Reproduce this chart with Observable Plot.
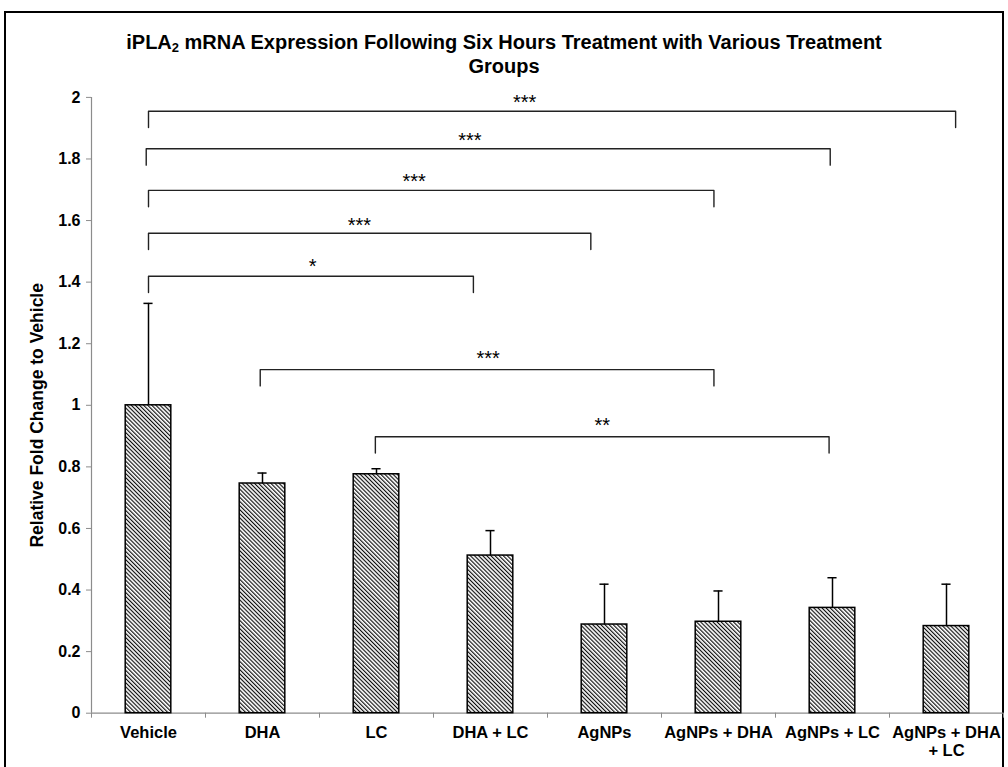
<!DOCTYPE html>
<html>
<head>
<meta charset="utf-8">
<script src="https://cdn.jsdelivr.net/npm/d3@7"></script>
<script src="https://cdn.jsdelivr.net/npm/@observablehq/plot@0.6"></script>
<style>
  html, body { margin: 0; padding: 0; background: #fff; overflow: hidden; }
  body { width: 1008px; height: 767px; position: relative; font-family: "Liberation Sans", Arial, Helvetica, sans-serif; }
  #frame { position: absolute; left: 4px; top: 11px; width: 1000px; height: 800px; border: 2px solid #000; border-bottom: none; box-sizing: border-box; }
  #title { position: absolute; left: 0; top: 30px; width: 1008px; text-align: center; font-weight: bold; font-size: 20px; line-height: 24px; color: #000; }
  #title sub { font-size: 13px; vertical-align: -3px; line-height: 0; }
  #chart { position: absolute; left: 0; top: 0; }
</style>
</head>
<body>
<div id="frame"></div>
<div id="chart"></div>
<div id="title">iPLA<sub>2</sub> mRNA Expression Following Six Hours Treatment with Various Treatment<br>Groups</div>
<script>
// Treatment groups and their relative fold change (mean and top of error bar)
const groups = ["Vehicle", "DHA", "LC", "DHA + LC", "AgNPs", "AgNPs + DHA", "AgNPs + LC", "AgNPs + DHA\n+ LC"];
const means  = [1.000, 0.746, 0.776, 0.512, 0.288, 0.297, 0.342, 0.283];
const upper  = [1.331, 0.780, 0.794, 0.593, 0.419, 0.397, 0.440, 0.419];
const yTicks = [0, 0.2, 0.4, 0.6, 0.8, 1, 1.2, 1.4, 1.6, 1.8, 2];

// Significance brackets: group positions spanned, bracket height, star label and its placement
const bracketFrom  = [0.00, -0.02, 0.00, 0.00, 0.00, 0.98, 1.99];
const bracketTo    = [7.08, 5.98, 4.96, 3.88, 2.85, 4.96, 5.97];
const bracketY     = [1.955, 1.833, 1.698, 1.559, 1.419, 1.116, 0.898];
const bracketStars = ["***", "***", "***", "***", "*", "***", "**"];
const starX        = [3.30, 2.82, 2.33, 1.85, 1.44, 2.98, 3.98];
const starY        = [1.996, 1.873, 1.741, 1.597, 1.464, 1.164, 0.947];

const bars = groups.map((g, i) => ({i, group: g, mean: means[i], upper: upper[i]}));
const drop = 0.053; // length of the bracket legs
const bracketPath = bracketY.flatMap((y, k) => [
  {k, x: bracketFrom[k], y: y - drop},
  {k, x: bracketFrom[k], y},
  {k, x: bracketTo[k], y},
  {k, x: bracketTo[k], y: y - drop}
]);
const stars = bracketStars.map((s, k) => ({s, x: starX[k], y: starY[k]}));
const bounds = d3.range(groups.length + 1).map(i => i - 0.5);
const halfBar = 0.2, halfCap = 0.04;

// Diagonal hatch fill for the bars
const hatch = () => {
  const defs = d3.create("svg:defs");
  const p = defs.append("pattern")
    .attr("id", "hatch")
    .attr("patternUnits", "userSpaceOnUse")
    .attr("width", 2.9).attr("height", 8)
    .attr("patternTransform", "rotate(-45)");
  p.append("rect").attr("width", 2.9).attr("height", 8).attr("fill", "#fff");
  p.append("line").attr("x1", 0.6).attr("y1", 0).attr("x2", 0.6).attr("y2", 8)
    .attr("stroke", "#000").attr("stroke-width", 1.1);
  return defs.node();
};

const chart = Plot.plot({
  width: 1008,
  height: 767,
  marginLeft: 91,
  marginRight: 5,
  marginTop: 96.9,
  marginBottom: 54.3,
  style: {fontFamily: "'Liberation Sans', Arial, Helvetica, sans-serif", color: "#000", background: "transparent"},
  x: {type: "linear", domain: [-0.5, groups.length - 0.5], axis: null},
  y: {domain: [0, 2], axis: null},
  marks: [
    hatch,
    // axes
    Plot.ruleX([-0.5], {stroke: "#8c8c8c", strokeWidth: 1.2}),
    Plot.ruleY([0], {stroke: "#8c8c8c", strokeWidth: 1.2}),
    Plot.axisY({ticks: yTicks, tickSize: 5, tickPadding: 6, stroke: "#8c8c8c", fill: "#000",
      fontSize: 16, fontWeight: "bold", tickFormat: d => String(+d.toFixed(1)), label: null}),
    Plot.axisX({ticks: bounds, tickSize: 5, stroke: "#8c8c8c", tickFormat: () => "", label: null}),
    Plot.axisX({ticks: d3.range(groups.length), tickSize: 0, tickPadding: 12, fill: "#000",
      fontSize: 16.5, fontWeight: "bold", lineHeight: 1.1, tickFormat: i => groups[i], label: null}),
    Plot.text(["Relative Fold Change to Vehicle"], {frameAnchor: "left", textAnchor: "middle", rotate: -90,
      dx: -54, dy: 10, fontSize: 17.5, fontWeight: "bold", fill: "#000"}),
    // error bars
    Plot.ruleX(bars, {x: "i", y1: "mean", y2: "upper", stroke: "#000", strokeWidth: 1.5}),
    Plot.ruleY(bars, {y: "upper", x1: d => d.i - halfCap, x2: d => d.i + halfCap, stroke: "#000", strokeWidth: 1.5}),
    // bars
    Plot.rectY(bars, {x1: d => d.i - halfBar, x2: d => d.i + halfBar, y1: 0, y2: "mean",
      fill: "url(#hatch)", stroke: "#000", strokeWidth: 1.5}),
    // significance brackets
    Plot.line(bracketPath, {x: "x", y: "y", z: "k", stroke: "#222", strokeWidth: 1.4, curve: "linear"}),
    Plot.text(stars, {x: "x", y: "y", text: "s", fontSize: 20, dy: 4, fill: "#000"})
  ]
});
document.getElementById("chart").appendChild(chart);
</script>
</body>
</html>
